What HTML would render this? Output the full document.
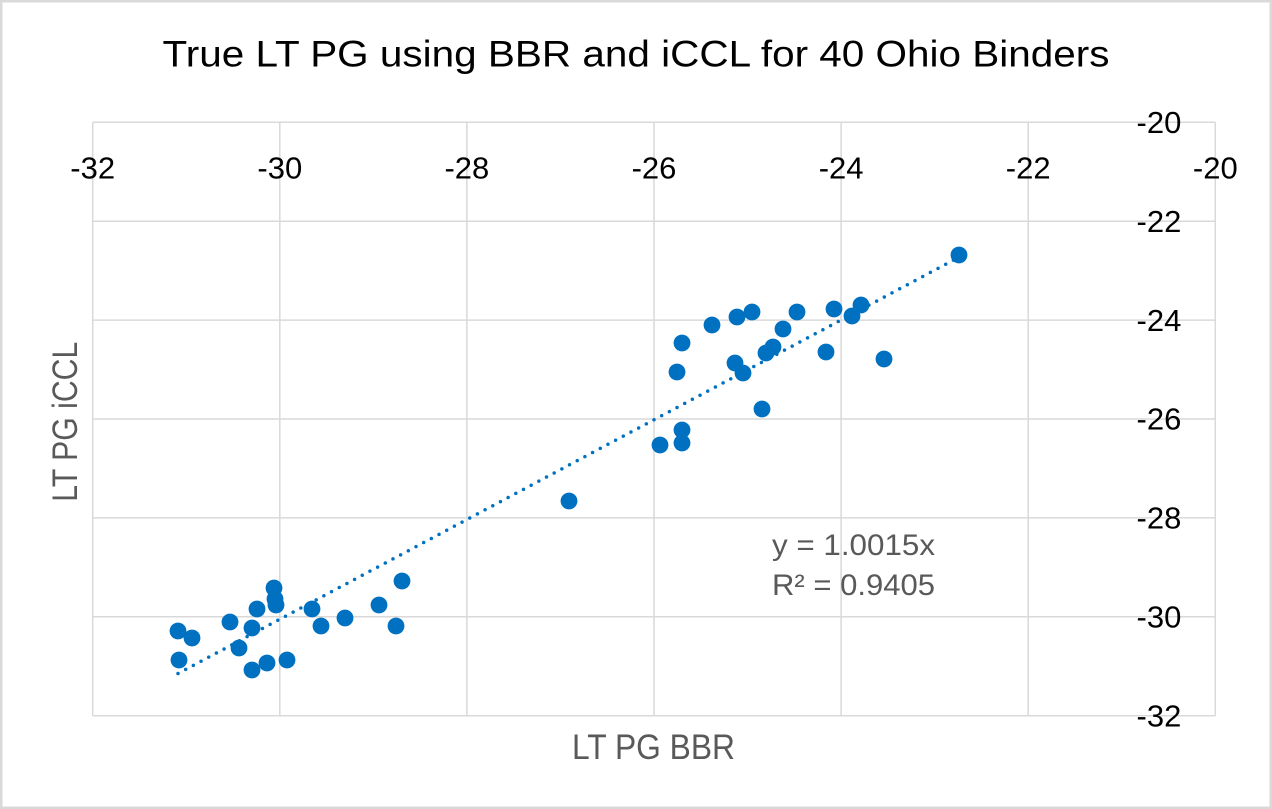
<!DOCTYPE html>
<html>
<head>
<meta charset="utf-8">
<style>
  html,body{margin:0;padding:0;background:#fff;}
  svg{display:block;}
  text{font-family:"Liberation Sans", sans-serif;}
</style>
</head>
<body>
<svg width="1272" height="809" viewBox="0 0 1272 809" xmlns="http://www.w3.org/2000/svg">
  <rect x="0" y="0" width="1272" height="809" fill="#fff"/>
  <rect x="1.25" y="1.25" width="1269.5" height="806.5" fill="none" stroke="#d9d9d9" stroke-width="2.5"/>

  <g stroke="#d9d9d9" stroke-width="1.5" fill="none">
    <line x1="92.7" y1="122.3" x2="92.7" y2="715.7"/>
    <line x1="279.8" y1="122.3" x2="279.8" y2="715.7"/>
    <line x1="466.9" y1="122.3" x2="466.9" y2="715.7"/>
    <line x1="654.0" y1="122.3" x2="654.0" y2="715.7"/>
    <line x1="841.1" y1="122.3" x2="841.1" y2="715.7"/>
    <line x1="1028.2" y1="122.3" x2="1028.2" y2="715.7"/>
    <line x1="1215.3" y1="122.3" x2="1215.3" y2="715.7"/>
    <line x1="92.7" y1="122.3" x2="1215.3" y2="122.3"/>
    <line x1="92.7" y1="221.2" x2="1215.3" y2="221.2"/>
    <line x1="92.7" y1="320.1" x2="1215.3" y2="320.1"/>
    <line x1="92.7" y1="419.0" x2="1215.3" y2="419.0"/>
    <line x1="92.7" y1="517.9" x2="1215.3" y2="517.9"/>
    <line x1="92.7" y1="616.8" x2="1215.3" y2="616.8"/>
    <line x1="92.7" y1="715.7" x2="1215.3" y2="715.7"/>
  </g>

  <text x="636" y="66.5" font-size="37" fill="#000" text-anchor="middle" textLength="947" lengthAdjust="spacingAndGlyphs">True LT PG using BBR and iCCL for 40 Ohio Binders</text>

  <g font-size="31" fill="#000" text-anchor="middle">
    <text x="92.7" y="178.3">-32</text>
    <text x="279.8" y="178.3">-30</text>
    <text x="466.9" y="178.3">-28</text>
    <text x="654.0" y="178.3">-26</text>
    <text x="841.1" y="178.3">-24</text>
    <text x="1028.2" y="178.3">-22</text>
    <text x="1215.3" y="178.3">-20</text>
  </g>

  <g font-size="31" fill="#000" text-anchor="start">
    <text x="1136.5" y="133">-20</text>
    <text x="1136.5" y="231.9">-22</text>
    <text x="1136.5" y="330.8">-24</text>
    <text x="1136.5" y="429.7">-26</text>
    <text x="1136.5" y="528.6">-28</text>
    <text x="1136.5" y="627.5">-30</text>
    <text x="1136.5" y="726.4">-32</text>
  </g>

  <text x="653.5" y="759" font-size="35" fill="#595959" text-anchor="middle" textLength="163" lengthAdjust="spacingAndGlyphs">LT PG BBR</text>
  <text x="0" y="0" font-size="35" fill="#595959" text-anchor="middle" textLength="160" lengthAdjust="spacingAndGlyphs" transform="translate(77,421.7) rotate(-90)">LT PG iCCL</text>

  <line x1="178" y1="673.5" x2="959.3" y2="257" stroke="#0070c0" stroke-width="3.5" stroke-linecap="round" stroke-dasharray="0 8.7"/>

  <g fill="#0070c0">
    <circle cx="178" cy="631" r="8.4"/>
    <circle cx="192" cy="638" r="8.4"/>
    <circle cx="179" cy="660" r="8.4"/>
    <circle cx="230" cy="622" r="8.4"/>
    <circle cx="257" cy="609" r="8.4"/>
    <circle cx="252" cy="628" r="8.4"/>
    <circle cx="239" cy="648" r="8.4"/>
    <circle cx="252" cy="670" r="8.4"/>
    <circle cx="267" cy="663" r="8.4"/>
    <circle cx="287" cy="660" r="8.4"/>
    <circle cx="274" cy="588" r="8.4"/>
    <circle cx="275" cy="599" r="8.4"/>
    <circle cx="276" cy="605" r="8.4"/>
    <circle cx="312" cy="609" r="8.4"/>
    <circle cx="321" cy="626" r="8.4"/>
    <circle cx="345" cy="618" r="8.4"/>
    <circle cx="379" cy="605" r="8.4"/>
    <circle cx="396" cy="626" r="8.4"/>
    <circle cx="402" cy="581" r="8.4"/>
    <circle cx="569" cy="501" r="8.4"/>
    <circle cx="682" cy="343" r="8.4"/>
    <circle cx="677" cy="372" r="8.4"/>
    <circle cx="712" cy="325" r="8.4"/>
    <circle cx="737" cy="317" r="8.4"/>
    <circle cx="752" cy="312" r="8.4"/>
    <circle cx="797" cy="312" r="8.4"/>
    <circle cx="834" cy="309" r="8.4"/>
    <circle cx="861" cy="305" r="8.4"/>
    <circle cx="852" cy="316" r="8.4"/>
    <circle cx="783" cy="329" r="8.4"/>
    <circle cx="773" cy="347" r="8.4"/>
    <circle cx="766" cy="353" r="8.4"/>
    <circle cx="735" cy="363" r="8.4"/>
    <circle cx="743" cy="373" r="8.4"/>
    <circle cx="826" cy="352" r="8.4"/>
    <circle cx="884" cy="359" r="8.4"/>
    <circle cx="762" cy="409" r="8.4"/>
    <circle cx="682" cy="430" r="8.4"/>
    <circle cx="682" cy="443" r="8.4"/>
    <circle cx="660" cy="445" r="8.4"/>
    <circle cx="959" cy="255" r="8.4"/>
  </g>

  <g font-size="30" fill="#595959">
    <text x="772" y="555" textLength="163" lengthAdjust="spacingAndGlyphs">y = 1.0015x</text>
    <text x="772" y="595" textLength="163" lengthAdjust="spacingAndGlyphs">R² = 0.9405</text>
  </g>
</svg>
</body>
</html>
